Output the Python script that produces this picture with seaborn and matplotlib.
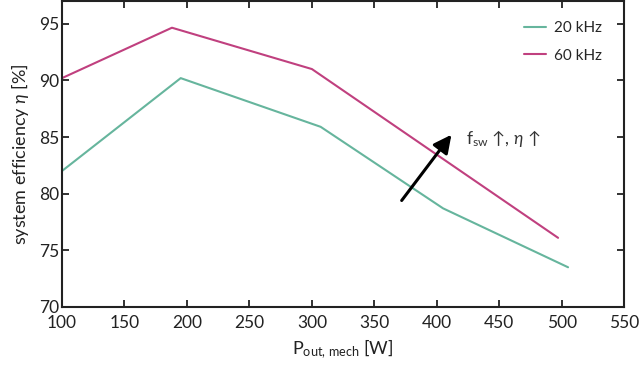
import matplotlib
matplotlib.use("Agg")
import matplotlib.pyplot as plt
import pandas as pd
import seaborn as sns

p_20khz = [100, 195, 307, 405, 505]
eta_20khz = [82.0, 90.2, 85.9, 78.7, 73.5]
p_60khz = [100, 188, 300, 497]
eta_60khz = [90.2, 94.65, 91.0, 76.1]
labels = ["20 kHz", "60 kHz"]
colors = ["#66b59d", "#c0407f"]

df = pd.concat([
    pd.DataFrame({"P": p_20khz, "eta": eta_20khz, "f": labels[0]}),
    pd.DataFrame({"P": p_60khz, "eta": eta_60khz, "f": labels[1]}),
])

sns.set_theme(style="ticks")
plt.rcParams["font.family"] = ["Lato", "DejaVu Sans"]
plt.rcParams["mathtext.fontset"] = "custom"
plt.rcParams["mathtext.rm"] = "Lato"
plt.rcParams["mathtext.it"] = "Lato:italic"

fig, ax = plt.subplots(figsize=(6.39, 3.68), dpi=100)
fig.subplots_adjust(left=0.097, right=0.977, bottom=0.166, top=0.997)

sns.lineplot(data=df, x="P", y="eta", hue="f", palette=colors, sort=False,
             linewidth=1.5, ax=ax)

ax.set_xlim(100, 550)
ax.set_ylim(70, 97)
ax.set_xticks(range(100, 551, 50))
ax.set_yticks(range(70, 96, 5))
ax.tick_params(direction="in", length=5, width=1.3, top=True, right=True,
               labelsize=12.5, colors="#222222", pad=2)
ax.tick_params(axis="x", pad=6)
for s in ax.spines.values():
    s.set_linewidth(1.5)
    s.set_color("#222222")

ax.set_xlabel(r"P$_\mathregular{out,\,mech}$ [W]", fontsize=13, color="#222222",
              labelpad=5)
ax.set_ylabel(r"system efficiency $\mathit{\eta}$ [%]", fontsize=13, color="#222222",
              labelpad=6)

ax.annotate("", xy=(413, 85.4), xytext=(370.5, 79.2),
            arrowprops=dict(arrowstyle="-|>,head_length=0.9,head_width=0.45",
                            color="black", lw=2.2))
ax.text(423, 84.9, r"f$_\mathregular{sw}$ ↑, $\mathit{\eta}$ ↑", fontsize=12.5,
        color="#333333", va="center")

leg = ax.legend(loc="upper right", frameon=False, fontsize=11, handlelength=1.5,
                handletextpad=0.5, bbox_to_anchor=(0.985, 0.98), labelspacing=0.9)
leg.set_title(None)

fig.savefig("out.png", dpi=100)
